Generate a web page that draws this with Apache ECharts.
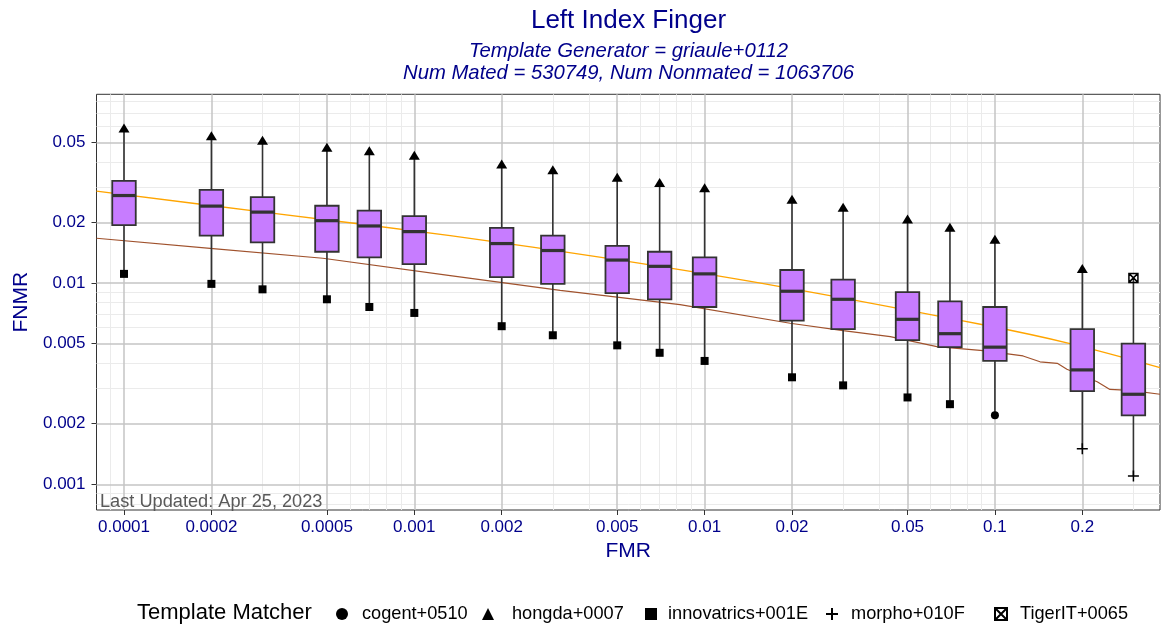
<!DOCTYPE html>
<html>
<head>
<meta charset="utf-8">
<title>Left Index Finger</title>
<script src="https://cdn.jsdelivr.net/npm/echarts@6/dist/echarts.min.js"></script>
<style>
  html, body { margin: 0; padding: 0; background: #fff; }
  #chart { width: 1170px; height: 624px; }
</style>
</head>
<body>
<div id="chart"></div>
<script>
// FMR operating points, one box each
var fmr = [0.0001, 0.0002, 0.0003, 0.0005, 0.0007, 0.001, 0.002, 0.003, 0.005,
           0.007, 0.01, 0.02, 0.03, 0.05, 0.07, 0.1, 0.2, 0.3];
var whiskerHi = [0.0589, 0.0539, 0.0512, 0.0472, 0.0454, 0.0431, 0.0390, 0.0365, 0.0335,
                 0.0316, 0.0297, 0.0261, 0.0238, 0.0208, 0.0189, 0.0165, 0.0118, 0.0106];
var q3 = [0.0322, 0.0290, 0.0267, 0.0242, 0.0229, 0.0215, 0.0188, 0.0172, 0.0153,
          0.0143, 0.0134, 0.0116, 0.0104, 0.0090, 0.0081, 0.0076, 0.0059, 0.0050];
var median = [0.0272, 0.0241, 0.0225, 0.0204, 0.0192, 0.0180, 0.0157, 0.0145, 0.0130,
              0.0121, 0.0111, 0.0091, 0.0083, 0.0066, 0.0056, 0.0048, 0.0037, 0.0028];
var q1 = [0.0194, 0.0172, 0.0159, 0.0143, 0.0134, 0.0124, 0.0107, 0.0099, 0.0089,
          0.0083, 0.0076, 0.0065, 0.0059, 0.0052, 0.0048, 0.0041, 0.0029, 0.0022];
var whiskerLo = [0.0111, 0.0099, 0.0093, 0.0083, 0.0076, 0.0071, 0.0061, 0.0055, 0.0049,
                 0.0045, 0.0041, 0.0034, 0.0031, 0.0027, 0.0025, 0.0022, 0.0015, 0.0011];
// which matcher sits at each whisker end
var topMatcher = ['hongda+0007', 'hongda+0007', 'hongda+0007', 'hongda+0007', 'hongda+0007',
                  'hongda+0007', 'hongda+0007', 'hongda+0007', 'hongda+0007', 'hongda+0007',
                  'hongda+0007', 'hongda+0007', 'hongda+0007', 'hongda+0007', 'hongda+0007',
                  'hongda+0007', 'hongda+0007', 'TigerIT+0065'];
var bottomMatcher = ['innovatrics+001E', 'innovatrics+001E', 'innovatrics+001E', 'innovatrics+001E',
                     'innovatrics+001E', 'innovatrics+001E', 'innovatrics+001E', 'innovatrics+001E',
                     'innovatrics+001E', 'innovatrics+001E', 'innovatrics+001E', 'innovatrics+001E',
                     'innovatrics+001E', 'innovatrics+001E', 'innovatrics+001E', 'cogent+0510',
                     'morpho+010F', 'morpho+010F'];

// reference curves
var orangeFmr = [0.0000804, 0.000318, 0.00133, 0.0049, 0.0182, 0.091, 0.1815, 0.3704];
var orangeFnmr = [0.0286, 0.0223, 0.0172, 0.0131, 0.0096, 0.0062, 0.0050, 0.0038];
var brownFmr = [0.0000804, 0.000198, 0.000484, 0.00133, 0.00318, 0.00823, 0.0197, 0.030,
                0.0436, 0.0631, 0.091, 0.125, 0.143, 0.164, 0.177, 0.225, 0.249, 0.292, 0.3704];
var brownFnmr = [0.01668, 0.01487, 0.01327, 0.01087, 0.0092, 0.0078, 0.00631, 0.0058,
                 0.00541, 0.00483, 0.00461, 0.00434, 0.00406, 0.00399, 0.00373, 0.00323,
                 0.00296, 0.00293, 0.0028];

var xMajor = [0.0001, 0.0002, 0.0005, 0.001, 0.002, 0.005, 0.01, 0.02, 0.05, 0.1, 0.2];
var xMinor = [0.00009, 0.0003, 0.0004, 0.0006, 0.0007, 0.0008, 0.0009, 0.003, 0.004, 0.006,
              0.007, 0.008, 0.009, 0.03, 0.04, 0.06, 0.07, 0.08, 0.09, 0.3];
var yMajor = [0.001, 0.002, 0.005, 0.01, 0.02, 0.05];
var yMinor = [0.0008, 0.0009, 0.003, 0.004, 0.006, 0.007, 0.008, 0.009, 0.03, 0.04, 0.06,
              0.07, 0.08];

var matchers = ['cogent+0510', 'hongda+0007', 'innovatrics+001E', 'morpho+010F', 'TigerIT+0065'];
var legendLeft = [331, 477, 640, 820, 989];
var legendPad = [9, 13, 6, 8, 8];

var FONT = 'Liberation Sans, Arial, Helvetica, sans-serif';
var NAVY = '#00008B';

var symbols = {
    'cogent+0510': { symbol: 'circle', size: 8, fill: '#000' },
    'hongda+0007': { symbol: 'triangle', size: [11, 9], fill: '#000' },
    'innovatrics+001E': { symbol: 'rect', size: 8, fill: '#000' },
    'morpho+010F': { symbol: 'path://M5,0L5,10M0,5L10,5', size: 11, fill: 'transparent' },
    'TigerIT+0065': { symbol: 'path://M0,0L10,0L10,10L0,10ZM0,0L10,10M10,0L0,10', size: 9, fill: 'transparent' }
};

var boxData = fmr.map(function (f, i) {
    return [f, whiskerLo[i], q1[i], median[i], q3[i], whiskerHi[i]];
});

function pointsFor(name) {
    var pts = [];
    fmr.forEach(function (f, i) {
        if (topMatcher[i] === name) pts.push([f, whiskerHi[i]]);
        if (bottomMatcher[i] === name) pts.push([f, whiskerLo[i]]);
    });
    return pts;
}

function zip(a, b) {
    return a.map(function (v, i) { return [v, b[i]]; });
}

// grid lines as mark lines so minor sit under major (ggplot order)
function gridSeries(xs, ys, color, width, z) {
    return {
        type: 'line', data: [], silent: true, z: z,
        markLine: {
            z: z, silent: true, symbol: ['none', 'none'], animation: false,
            precision: 12,
            label: { show: false },
            emphasis: { disabled: true },
            lineStyle: { color: color, width: width, type: 'solid' },
            data: xs.map(function (v) { return { xAxis: v }; })
                .concat(ys.map(function (v) { return { yAxis: v }; }))
        }
    };
}

var chart = echarts.init(document.getElementById('chart'));

var scatterSeries = matchers.map(function (name) {
    var s = symbols[name];
    return {
        name: name,
        type: 'scatter',
        data: pointsFor(name),
        symbol: s.symbol,
        symbolSize: s.size,
        symbolKeepAspect: true,
        z: 6,
        itemStyle: {
            color: s.fill,
            borderColor: '#000',
            borderWidth: s.fill === '#000' ? 0 : 1.5,
            opacity: 1
        },
        emphasis: { disabled: true }
    };
});

var legends = matchers.map(function (name, i) {
    return {
        data: [name],
        left: legendLeft[i],
        top: 600,
        itemWidth: 12,
        itemHeight: 12,
        selectedMode: false,
        textStyle: { fontFamily: FONT, fontSize: 18.2, color: '#000', padding: [0, 0, 0, legendPad[i]] }
    };
});

chart.setOption({
    backgroundColor: '#fff',
    animation: false,
    title: [
        {
            text: 'Left Index Finger',
            left: 623.5, top: 3, textAlign: 'center',
            textStyle: { fontFamily: FONT, fontSize: 26, fontWeight: 'normal', color: NAVY }
        },
        {
            text: 'Template Generator = griaule+0112\nNum Mated = 530749, Num Nonmated = 1063706',
            left: 623.5, top: 35, textAlign: 'center',
            textStyle: { fontFamily: FONT, fontSize: 20.3, fontStyle: 'italic', fontWeight: 'normal',
                         color: NAVY, lineHeight: 22 }
        },
        {
            text: 'Last Updated: Apr 25, 2023',
            left: 95, top: 488,
            textStyle: { fontFamily: FONT, fontSize: 18.2, fontWeight: 'normal', color: '#595959' }
        },
        {
            text: 'Template Matcher',
            left: 132, top: 597,
            textStyle: { fontFamily: FONT, fontSize: 22, fontWeight: 'normal', color: '#000' }
        }
    ],
    legend: legends,
    grid: {
        left: 96.5, right: 10, top: 94.3, bottom: 114,
        show: true, borderColor: '#333', borderWidth: 1, backgroundColor: '#fff'
    },
    xAxis: {
        type: 'log', logBase: 10, min: 0.0000804, max: 0.3704, position: 'bottom',
        name: 'FMR', nameLocation: 'middle', nameGap: 30,
        nameTextStyle: { fontFamily: FONT, fontSize: 21, color: NAVY },
        axisLine: { show: false },
        axisTick: { show: true, length: 5, customValues: xMajor,
                    lineStyle: { color: '#333', width: 1 } },
        axisLabel: {
            customValues: xMajor, margin: 9,
            fontFamily: FONT, fontSize: 17, color: NAVY,
            formatter: function (v) { return String(+v.toPrecision(3)); }
        },
        splitLine: { show: false }
    },
    yAxis: {
        type: 'log', logBase: 10, min: 0.000745, max: 0.0866, position: 'left',
        name: 'FNMR', nameLocation: 'middle', nameGap: 60,
        nameTextStyle: { fontFamily: FONT, fontSize: 21, color: NAVY },
        axisLine: { show: false },
        axisTick: { show: true, length: 5, customValues: yMajor,
                    lineStyle: { color: '#333', width: 1 } },
        axisLabel: {
            customValues: yMajor, margin: 11,
            fontFamily: FONT, fontSize: 17, color: NAVY,
            formatter: function (v) { return String(+v.toPrecision(3)); }
        },
        splitLine: { show: false }
    },
    series: [
        gridSeries(xMinor, yMinor, '#EBEBEB', 1, 1),
        gridSeries(xMajor, yMajor, '#C4C4C4', 1.5, 2),
        {
            name: 'orange', type: 'line',
            data: zip(orangeFmr, orangeFnmr), showSymbol: false, smooth: 0.3, z: 3,
            lineStyle: { color: '#FFA500', width: 1.4 }, silent: true
        },
        {
            name: 'brown', type: 'line',
            data: zip(brownFmr, brownFnmr), showSymbol: false, z: 3,
            lineStyle: { color: '#A0522D', width: 1.2 }, silent: true
        },
        {
            name: 'boxes', type: 'custom',
            data: boxData, z: 4, silent: true,
            encode: { x: 0, y: [1, 2, 3, 4, 5] },
            renderItem: function (params, api) {
                var x = api.value(0);
                var lo = api.coord([x, api.value(1)]);
                var b1 = api.coord([x, api.value(2)]);
                var md = api.coord([x, api.value(3)]);
                var b3 = api.coord([x, api.value(4)]);
                var hi = api.coord([x, api.value(5)]);
                var w = 23.5;
                var ink = '#333333';
                return {
                    type: 'group',
                    children: [
                        { type: 'line', shape: { x1: hi[0], y1: hi[1], x2: b3[0], y2: b3[1] },
                          style: { stroke: ink, lineWidth: 1.6 } },
                        { type: 'line', shape: { x1: b1[0], y1: b1[1], x2: lo[0], y2: lo[1] },
                          style: { stroke: ink, lineWidth: 1.6 } },
                        { type: 'rect', shape: { x: b3[0] - w / 2, y: b3[1], width: w, height: b1[1] - b3[1] },
                          style: { fill: '#C77CFF', stroke: ink, lineWidth: 1.8 } },
                        { type: 'line', shape: { x1: md[0] - w / 2, y1: md[1], x2: md[0] + w / 2, y2: md[1] },
                          style: { stroke: ink, lineWidth: 3.2 } }
                    ]
                };
            }
        }
    ].concat(scatterSeries)
});
</script>
</body>
</html>
